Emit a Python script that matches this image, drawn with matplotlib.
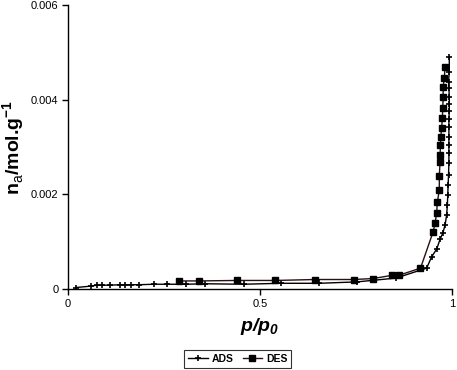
import matplotlib
matplotlib.use("Agg")
from matplotlib import pyplot as plt

plt.rcParams['font.family'] = ['Liberation Sans', 'DejaVu Sans']
plt.rcParams['mathtext.fontset'] = 'custom'
plt.rcParams['mathtext.rm'] = 'Liberation Sans'
plt.rcParams['mathtext.sf'] = 'Liberation Sans:style=italic:weight=bold'
plt.rcParams['mathtext.bf'] = 'Liberation Sans:weight=bold'

# adsorption branch
ads_x = [0.020, 0.059, 0.075, 0.088, 0.108, 0.135, 0.149, 0.165, 0.185, 0.224,
         0.257, 0.307, 0.357, 0.457, 0.554, 0.654, 0.753, 0.854, 0.934, 0.947,
         0.960, 0.969, 0.976, 0.982, 0.986, 0.988, 0.989, 0.990, 0.991, 0.992,
         0.992, 0.992, 0.992, 0.992, 0.992, 0.993, 0.993, 0.993, 0.992, 0.991,
         0.993, 0.993]
ads_y = [0.00003, 0.00006, 0.00008, 0.00008, 0.00008, 0.00009, 0.00009, 0.00009,
         0.00009, 0.00010, 0.00010, 0.00010, 0.00011, 0.00010, 0.00012, 0.00012,
         0.00015, 0.00023, 0.00044, 0.00068, 0.00084, 0.00105, 0.00118, 0.00135,
         0.00156, 0.00177, 0.00199, 0.00220, 0.00241, 0.00266, 0.00287, 0.00304,
         0.00322, 0.00342, 0.00359, 0.00377, 0.00391, 0.00406, 0.00424, 0.00438,
         0.00459, 0.00491]

# desorption branch
des_x = [0.982, 0.980, 0.977, 0.977, 0.976, 0.975, 0.973, 0.971, 0.970, 0.969,
         0.969, 0.967, 0.967, 0.962, 0.960, 0.956, 0.951, 0.918, 0.862, 0.845,
         0.794, 0.744, 0.643, 0.540, 0.440, 0.340, 0.290]
des_y = [0.00470, 0.00445, 0.00427, 0.00405, 0.00382, 0.00361, 0.00340, 0.00322,
         0.00304, 0.00283, 0.00269, 0.00239, 0.00209, 0.00184, 0.00160, 0.00139,
         0.00121, 0.00044, 0.00029, 0.00029, 0.00022, 0.00020, 0.00020, 0.00018,
         0.00018, 0.00017, 0.00017]

x_ticks = [0, 0.5, 1]
x_labels = ["0", "0.5", "1"]
y_ticks = [0, 0.002, 0.004, 0.006]
y_labels = ["0", "0.002", "0.004", "0.006"]

fig = plt.figure(figsize=(4.57, 3.70), dpi=100)
ax = fig.add_axes([0.149, 0.219, 0.840, 0.767])

ax.plot(ads_x, ads_y, color='black', lw=1.0, marker='+', ms=4, mew=1.2,
        label='ADS')
ax.plot(des_x, des_y, color='#2a1010', lw=1.0, marker='s', ms=3.8,
        mfc='black', mec='black', label='DES')

ax.set_xlim(0, 1)
ax.set_ylim(0, 0.006)
ax.set_xticks(x_ticks)
ax.set_xticklabels(x_labels)
ax.set_yticks(y_ticks)
ax.set_yticklabels(y_labels)
ax.tick_params(direction='out', length=4, width=1, labelsize=8, pad=3)
for s in ['top', 'right']:
    ax.spines[s].set_visible(False)
for s in ['left', 'bottom']:
    ax.spines[s].set_linewidth(1.0)

ax.set_xlabel('p/p$_\\mathsf{0}$', fontsize=14, fontweight='bold',
              style='italic', labelpad=5)
ax.set_ylabel('n$_\\mathrm{a}$/mol.g$^\\mathbf{-1}$', fontsize=14,
              fontweight='bold', labelpad=3)

leg = fig.legend(loc='center', bbox_to_anchor=(0.52, 0.030), ncol=2,
                 fontsize=7.5, frameon=True, fancybox=False, handlelength=1.9,
                 columnspacing=0.9, borderpad=0.35, handletextpad=0.35)
leg.get_frame().set_edgecolor('black')
leg.get_frame().set_linewidth(0.8)
for t in leg.get_texts():
    t.set_fontweight('bold')

fig.savefig('out.png', dpi=100)
